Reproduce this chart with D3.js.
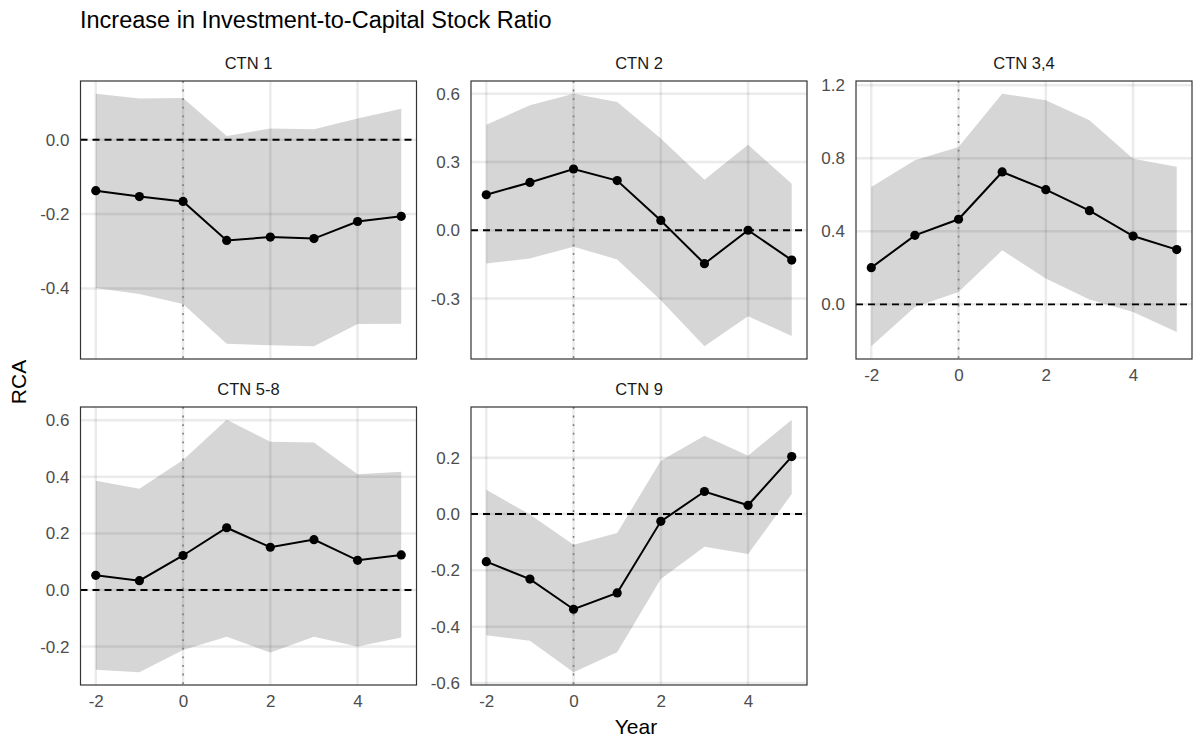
<!DOCTYPE html>
<html>
<head>
<meta charset="utf-8">
<script src="https://cdn.jsdelivr.net/npm/d3@7"></script>
<style>
  body { margin: 0; background: #fff; }
  text { font-family: "Liberation Sans", Arial, sans-serif; }
</style>
</head>
<body>
<script>
const width = 1196
const height = 740

// data
const years = [-2, -1, 0, 1, 2, 3, 4, 5]
const panelNames = ["CTN 1", "CTN 2", "CTN 3,4", "CTN 5-8", "CTN 9"]

const ctn1Est = [-0.137, -0.153, -0.166, -0.271, -0.262, -0.266, -0.220, -0.206]
const ctn1Lo  = [-0.399, -0.415, -0.442, -0.549, -0.553, -0.556, -0.496, -0.495]
const ctn1Hi  = [0.124, 0.111, 0.112, 0.010, 0.030, 0.028, 0.057, 0.083]

const ctn2Est = [0.156, 0.210, 0.269, 0.218, 0.043, -0.147, 0.000, -0.131]
const ctn2Lo  = [-0.146, -0.124, -0.072, -0.128, -0.307, -0.510, -0.378, -0.465]
const ctn2Hi  = [0.463, 0.549, 0.600, 0.563, 0.403, 0.222, 0.375, 0.204]

const ctn34Est = [0.201, 0.378, 0.466, 0.725, 0.628, 0.513, 0.374, 0.300]
const ctn34Lo  = [-0.230, -0.015, 0.068, 0.296, 0.141, 0.026, -0.042, -0.152]
const ctn34Hi  = [0.643, 0.789, 0.862, 1.154, 1.118, 1.008, 0.798, 0.753]

const ctn58Est = [0.052, 0.033, 0.122, 0.220, 0.151, 0.178, 0.105, 0.124]
const ctn58Lo  = [-0.282, -0.291, -0.212, -0.165, -0.221, -0.165, -0.200, -0.168]
const ctn58Hi  = [0.386, 0.358, 0.459, 0.602, 0.524, 0.521, 0.409, 0.418]

const ctn9Est = [-0.169, -0.231, -0.338, -0.280, -0.026, 0.080, 0.031, 0.204]
const ctn9Lo  = [-0.430, -0.450, -0.562, -0.491, -0.231, -0.116, -0.142, 0.071]
const ctn9Hi  = [0.086, -0.002, -0.109, -0.067, 0.189, 0.278, 0.207, 0.335]

const xTicks = [-2, 0, 2, 4]
const yTicks1 = [-0.4, -0.2, 0.0]
const yTicks2 = [-0.3, 0.0, 0.3, 0.6]
const yTicks34 = [0.0, 0.4, 0.8, 1.2]
const yTicks58 = [-0.2, 0.0, 0.2, 0.4, 0.6]
const yTicks9 = [-0.6, -0.4, -0.2, 0.0, 0.2]

const panels = [
  {name: panelNames[0], est: ctn1Est, lo: ctn1Lo, hi: ctn1Hi, ticks: yTicks1, col: 0, row: 0, xaxis: false},
  {name: panelNames[1], est: ctn2Est, lo: ctn2Lo, hi: ctn2Hi, ticks: yTicks2, col: 1, row: 0, xaxis: false},
  {name: panelNames[2], est: ctn34Est, lo: ctn34Lo, hi: ctn34Hi, ticks: yTicks34, col: 2, row: 0, xaxis: true},
  {name: panelNames[3], est: ctn58Est, lo: ctn58Lo, hi: ctn58Hi, ticks: yTicks58, col: 0, row: 1, xaxis: true},
  {name: panelNames[4], est: ctn9Est, lo: ctn9Lo, hi: ctn9Hi, ticks: yTicks9, col: 1, row: 1, xaxis: true}
]

// layout
const colX = [80.5, 471, 856]
const rowY = [81, 407]
const pw = 336
const ph = 278

const svg = d3.select('body').append('svg')
  .attr('width', width)
  .attr('height', height)

svg.append('text')
  .attr('x', 80).attr('y', 28)
  .attr('font-size', 23.5)
  .attr('fill', '#000')
  .text('Increase in Investment-to-Capital Stock Ratio')

svg.append('text')
  .attr('transform', 'translate(26,382) rotate(-90)')
  .attr('text-anchor', 'middle')
  .attr('font-size', 21)
  .text('RCA')

svg.append('text')
  .attr('x', 636).attr('y', 734)
  .attr('text-anchor', 'middle')
  .attr('font-size', 21)
  .text('Year')

// ggplot style expansion (5% each side)
function expand(lo, hi) {
  const pad = (hi - lo) * 0.05
  return [lo - pad, hi + pad]
}

const x = d3.scaleLinear()
  .domain(expand(d3.min(years), d3.max(years)))
  .range([0, pw])

panels.forEach(p => {
  const g = svg.append('g')
    .attr('transform', `translate(${colX[p.col]},${rowY[p.row]})`)

  const y = d3.scaleLinear()
    .domain(expand(d3.min(p.lo), d3.max(p.hi)))
    .range([ph, 0])

  const rows = years.map((yr, i) => ({yr, est: p.est[i], lo: p.lo[i], hi: p.hi[i]}))

  // strip title
  g.append('text')
    .attr('x', pw / 2).attr('y', -12)
    .attr('text-anchor', 'middle')
    .attr('font-size', 16.5)
    .attr('fill', '#1a1a1a')
    .text(p.name)

  g.append('path')
    .datum(rows)
    .attr('fill', '#d6d6d6')
    .attr('d', d3.area().x(d => x(d.yr)).y0(d => y(d.lo)).y1(d => y(d.hi)))

  // grid, drawn over the ribbon
  g.selectAll('.gx').data(xTicks).enter().append('line')
    .attr('x1', d => x(d)).attr('x2', d => x(d))
    .attr('y1', 0).attr('y2', ph)
    .attr('stroke', 'rgba(0,0,0,0.08)')
    .attr('stroke-width', 2.5)
  g.selectAll('.gy').data(p.ticks).enter().append('line')
    .attr('x1', 0).attr('x2', pw)
    .attr('y1', d => y(d)).attr('y2', d => y(d))
    .attr('stroke', 'rgba(0,0,0,0.08)')
    .attr('stroke-width', 2.5)

  g.append('line')
    .attr('x1', 0).attr('x2', pw)
    .attr('y1', y(0)).attr('y2', y(0))
    .attr('stroke', '#000')
    .attr('stroke-width', 1.9)
    .attr('stroke-dasharray', '7,5')

  g.append('line')
    .attr('x1', x(0)).attr('x2', x(0))
    .attr('y1', 0).attr('y2', ph)
    .attr('stroke', '#7a7a7a')
    .attr('stroke-width', 1.6)
    .attr('stroke-dasharray', '1.8,6.8')

  g.append('path')
    .datum(rows)
    .attr('fill', 'none')
    .attr('stroke', '#000')
    .attr('stroke-width', 2)
    .attr('d', d3.line().x(d => x(d.yr)).y(d => y(d.est)))

  g.selectAll('.pt').data(rows).enter().append('circle')
    .attr('cx', d => x(d.yr))
    .attr('cy', d => y(d.est))
    .attr('r', 4.6)
    .attr('fill', '#000')

  g.append('rect')
    .attr('width', pw).attr('height', ph)
    .attr('fill', 'none')
    .attr('stroke', '#333')
    .attr('stroke-width', 1.2)

  const ya = g.append('g')
    .call(d3.axisLeft(y).tickValues(p.ticks).tickSize(0).tickPadding(11).tickFormat(d => d.toFixed(1)))
  ya.select('.domain').remove()
  ya.selectAll('text').attr('font-size', 17).attr('fill', '#4d4d4d')
    .style('font-family', '"Liberation Sans", Arial, sans-serif')

  if (p.xaxis) {
    const xa = g.append('g')
      .attr('transform', `translate(0,${ph})`)
      .call(d3.axisBottom(x).tickValues(xTicks).tickSize(0).tickPadding(10).tickFormat(d => String(d)))
    xa.select('.domain').remove()
    xa.selectAll('text').attr('font-size', 17).attr('fill', '#4d4d4d')
      .style('font-family', '"Liberation Sans", Arial, sans-serif')
  }
})
</script>
</body>
</html>
